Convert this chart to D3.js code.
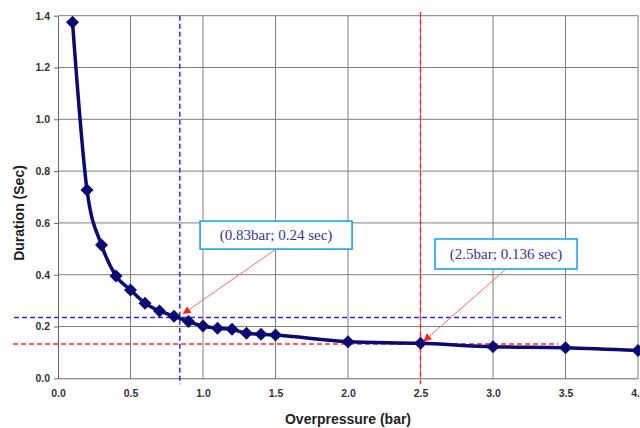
<!DOCTYPE html>
<meta charset="utf-8">
<style>
    body { margin: 0; background: #fff; }
    .grid line { stroke: #7e7e7e; stroke-width: 1; }
    .axis text { font-family: "Liberation Sans", Arial, sans-serif; font-weight: bold; font-size: 10.5px; fill: #333; }
    .axis path, .axis line { stroke: #666; }
    .title { font-family: "Liberation Sans", Arial, sans-serif; font-weight: bold; font-size: 14px; fill: #222; }
    .line { fill: none; stroke: #0a0a72; stroke-width: 3.5px; }
    .note text { font-family: "Liberation Serif", "Times New Roman", serif; font-size: 15px; fill: #34349a; }
</style>
<body>
<svg width="640" height="428"></svg>
<script src="https://d3js.org/d3.v7.min.js"></script>
<script>

    // measured points
    var pressure = [0.1, 0.2, 0.3, 0.4, 0.5, 0.6, 0.7, 0.8, 0.9, 1.0, 1.1, 1.2, 1.3, 1.4, 1.5, 2.0, 2.5, 3.0, 3.5, 4.0];
    var duration = [1.375, 0.727, 0.515, 0.395, 0.341, 0.29, 0.26, 0.24, 0.219, 0.202, 0.193, 0.189, 0.174, 0.17, 0.167, 0.141, 0.135, 0.122, 0.118, 0.107];

    var xTicks = [0, 0.5, 1.0, 1.5, 2.0, 2.5, 3.0, 3.5, 4.0];
    var yTicks = [0, 0.2, 0.4, 0.6, 0.8, 1.0, 1.2, 1.4];

    // reference lines
    var blueX = 0.84, blueY = 0.235;
    var redX = 2.5, redY = 0.132;

    // annotations: label, box centre, arrow tip (data units)
    var noteText = ["(0.83bar; 0.24 sec)", "(2.5bar; 0.136 sec)"];
    var noteBoxX = [1.504, 3.09], noteBoxY = [0.553, 0.48];
    var noteTipX = [0.86, 2.52], noteTipY = [0.248, 0.142];

    var svg = d3.select("svg"),
        margin = {top: 15.7, left: 58},
        width = 580,
        height = 362.6;

    var x = d3.scaleLinear().domain([0, 4]).range([0, width]),
        y = d3.scaleLinear().domain([0, 1.4]).range([height, 0]);

    var g = svg.append("g")
        .attr("transform", "translate(" + margin.left + "," + margin.top + ")");

    // grid
    var grid = g.append("g").attr("class", "grid");
    grid.selectAll(".gx").data(xTicks.slice(1)).enter().append("line")
        .attr("x1", d => x(d)).attr("x2", d => x(d))
        .attr("y1", 0).attr("y2", height);
    grid.selectAll(".gy").data(yTicks.slice(1)).enter().append("line")
        .attr("x1", 0).attr("x2", width)
        .attr("y1", d => y(d)).attr("y2", d => y(d));

    g.append("g")
        .attr("class", "axis")
        .attr("transform", "translate(0," + height + ")")
        .call(d3.axisBottom(x).tickValues(xTicks).tickSize(0).tickPadding(11).tickFormat(d3.format(".1f")));

    g.append("g")
        .attr("class", "axis")
        .call(d3.axisLeft(y).tickValues(yTicks).tickSize(4).tickSizeOuter(0).tickPadding(4).tickFormat(d3.format(".1f")));

    svg.append("text")
        .attr("class", "title")
        .attr("x", margin.left + width / 2)
        .attr("y", 424)
        .attr("text-anchor", "middle")
        .text("Overpressure (bar)");

    svg.append("text")
        .attr("class", "title")
        .attr("transform", "translate(24," + (margin.top + height / 2 + 16) + ") rotate(-90)")
        .attr("text-anchor", "middle")
        .text("Duration (Sec)");

    // dashed reference lines
    var ref = g.append("g").attr("stroke-width", 1.5).attr("stroke-dasharray", "5,3").attr("fill", "none");
    ref.append("line").attr("stroke", "#2a2aff")
        .attr("x1", x(blueX)).attr("x2", x(blueX)).attr("y1", 0).attr("y2", height + 6);
    ref.append("line").attr("stroke", "#2a2aff")
        .attr("x1", -44).attr("x2", x(3.47)).attr("y1", y(blueY)).attr("y2", y(blueY));
    ref.append("line").attr("stroke", "#ff2a2a")
        .attr("x1", x(redX)).attr("x2", x(redX)).attr("y1", -4).attr("y2", height + 6);
    ref.append("line").attr("stroke", "#ff2a2a")
        .attr("x1", -45).attr("x2", x(3.45)).attr("y1", y(redY)).attr("y2", y(redY));

    // curve + markers
    var pts = pressure.map((p, i) => [p, duration[i]]);
    var line = d3.line()
        .x(d => x(d[0]))
        .y(d => y(d[1]))
        .curve(d3.curveMonotoneX);

    g.append("path").datum(pts).attr("class", "line").attr("d", line);

    g.selectAll(".mark").data(pts).enter().append("path")
        .attr("fill", "#0a0a72")
        .attr("transform", d => "translate(" + x(d[0]) + "," + y(d[1]) + ")")
        .attr("d", "M0,-6.5L6.5,0L0,6.5L-6.5,0Z");

    // annotations
    svg.append("defs").append("marker")
        .attr("id", "head")
        .attr("viewBox", "0 0 10 10")
        .attr("refX", 10).attr("refY", 5)
        .attr("markerWidth", 9).attr("markerHeight", 8)
        .attr("markerUnits", "userSpaceOnUse")
        .attr("orient", "auto")
        .append("path").attr("d", "M0,0L10,5L0,10Z").attr("fill", "#ff2020");

    var boxW = [152, 142], boxH = [28, 30];
    noteText.forEach(function (t, i) {
        var cx = x(noteBoxX[i]), cy = y(noteBoxY[i]);
        var n = g.append("g").attr("class", "note");
        n.append("line")
            .attr("x1", cx).attr("y1", cy + boxH[i] / 2)
            .attr("x2", x(noteTipX[i])).attr("y2", y(noteTipY[i]))
            .attr("stroke", "#ff6a6a").attr("stroke-width", 1)
            .attr("marker-end", "url(#head)");
        n.append("rect")
            .attr("x", cx - boxW[i] / 2).attr("y", cy - boxH[i] / 2)
            .attr("width", boxW[i]).attr("height", boxH[i])
            .attr("fill", "#fff").attr("stroke", "#1aa6e6").attr("stroke-width", 1.6);
        n.append("text")
            .attr("x", cx).attr("y", cy + 5)
            .attr("text-anchor", "middle")
            .text(t);
    });

</script>
</body>
